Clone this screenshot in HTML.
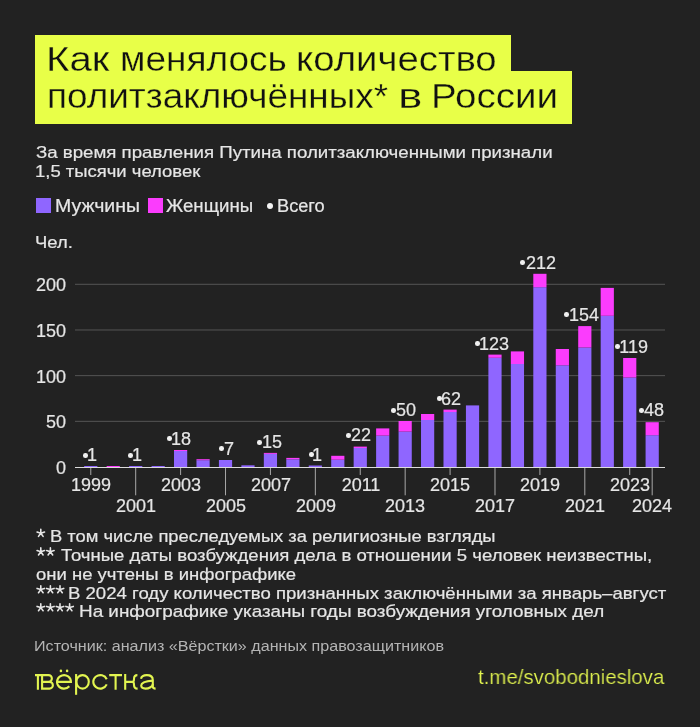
<!DOCTYPE html>
<html><head><meta charset="utf-8"><style>
html,body{margin:0;padding:0;}
div{will-change:transform;}
body{width:700px;height:727px;background:#222222;position:relative;overflow:hidden;font-family:"Liberation Sans",sans-serif;}
</style></head><body>
<div style="position:absolute;left:35px;top:35px;width:476px;height:40px;background:#e8ff48"></div><div style="position:absolute;left:35px;top:71.4px;width:537px;height:53.4px;background:#e8ff48"></div><div style="position:absolute;left:45.95px;top:42.28px;font-size:34.4px;line-height:34.4px;color:#111;white-space:pre;transform:scaleX(1.1687);transform-origin:0 0;-webkit-text-stroke:0.3px #e8ff48;">Как</div>
<div style="position:absolute;left:120.40px;top:42.28px;font-size:34.4px;line-height:34.4px;color:#111;white-space:pre;transform:scaleX(1.0758);transform-origin:0 0;-webkit-text-stroke:0.3px #e8ff48;">менялось</div>
<div style="position:absolute;left:295.82px;top:42.28px;font-size:34.4px;line-height:34.4px;color:#111;white-space:pre;transform:scaleX(1.1144);transform-origin:0 0;-webkit-text-stroke:0.3px #e8ff48;">количество</div>
<div style="position:absolute;left:46.56px;top:78.88px;font-size:34.4px;line-height:34.4px;color:#111;white-space:pre;transform:scaleX(1.0734);transform-origin:0 0;-webkit-text-stroke:0.3px #e8ff48;">политзаключённых*</div>
<div style="position:absolute;left:398.04px;top:78.88px;font-size:34.4px;line-height:34.4px;color:#111;white-space:pre;transform:scaleX(1.3313);transform-origin:0 0;-webkit-text-stroke:0.3px #e8ff48;">в</div>
<div style="position:absolute;left:430.68px;top:78.88px;font-size:34.4px;line-height:34.4px;color:#111;white-space:pre;transform:scaleX(1.1208);transform-origin:0 0;-webkit-text-stroke:0.3px #e8ff48;">России</div>
<div style="position:absolute;left:36.09px;top:144.04px;font-size:17.2px;line-height:17.2px;color:#e6e6e6;white-space:pre;transform:scaleX(1.0857);transform-origin:0 0;-webkit-text-stroke:0.2px #e6e6e6;">За время правления Путина политзаключенными признали</div>
<div style="position:absolute;left:35.14px;top:162.74px;font-size:17.2px;line-height:17.2px;color:#e6e6e6;white-space:pre;transform:scaleX(1.0742);transform-origin:0 0;-webkit-text-stroke:0.2px #e6e6e6;">1,5 тысячи человек</div>
<div style="position:absolute;left:35.7px;top:198px;width:15.3px;height:15.3px;background:#8f66ff"></div><div style="position:absolute;left:147.5px;top:198px;width:15.3px;height:15.3px;background:#fb3cfd"></div><div style="position:absolute;left:54.94px;top:198.20px;font-size:17.6px;line-height:17.6px;color:#e6e6e6;white-space:pre;transform:scaleX(1.1068);transform-origin:0 0;-webkit-text-stroke:0.2px #e6e6e6;">Мужчины</div>
<div style="position:absolute;left:166.41px;top:198.20px;font-size:17.6px;line-height:17.6px;color:#e6e6e6;white-space:pre;transform:scaleX(1.0595);transform-origin:0 0;-webkit-text-stroke:0.2px #e6e6e6;">Женщины</div>
<div style="position:absolute;left:276.55px;top:198.20px;font-size:17.6px;line-height:17.6px;color:#e6e6e6;white-space:pre;transform:scaleX(1.0347);transform-origin:0 0;-webkit-text-stroke:0.2px #e6e6e6;">Всего</div>
<div style="position:absolute;left:267.00px;top:203.00px;width:6px;height:6px;border-radius:50%;background:#f4f4f4"></div>
<div style="position:absolute;left:34.58px;top:233.51px;font-size:17px;line-height:17px;color:#e6e6e6;white-space:pre;transform:scaleX(1.0847);transform-origin:0 0;-webkit-text-stroke:0.2px #e6e6e6;">Чел.</div>
<svg style="position:absolute;left:0;top:0" width="700" height="727"><rect x="75" y="420.82" width="590" height="1" fill="#555555"/><rect x="75" y="375.15" width="590" height="1" fill="#555555"/><rect x="75" y="329.48" width="590" height="1" fill="#555555"/><rect x="75" y="283.80" width="590" height="1" fill="#555555"/><rect x="84.18" y="466.00" width="13.2" height="1.00" fill="#8f66ff"/><rect x="106.64" y="466.00" width="13.2" height="1.00" fill="#fb3cfd"/><rect x="129.09" y="466.00" width="13.2" height="1.00" fill="#8f66ff"/><rect x="151.55" y="466.00" width="13.2" height="1.00" fill="#8f66ff"/><rect x="174.00" y="451.00" width="13.2" height="16.00" fill="#8f66ff"/><rect x="174.00" y="450.00" width="13.2" height="1.00" fill="#fb3cfd"/><rect x="196.46" y="460.20" width="13.2" height="6.80" fill="#8f66ff"/><rect x="196.46" y="459.20" width="13.2" height="1.00" fill="#fb3cfd"/><rect x="218.92" y="460.00" width="13.2" height="7.00" fill="#8f66ff"/><rect x="241.37" y="465.30" width="13.2" height="1.70" fill="#8f66ff"/><rect x="263.83" y="453.90" width="13.2" height="13.10" fill="#8f66ff"/><rect x="263.83" y="452.90" width="13.2" height="1.00" fill="#fb3cfd"/><rect x="286.28" y="459.30" width="13.2" height="7.70" fill="#8f66ff"/><rect x="286.28" y="457.90" width="13.2" height="1.40" fill="#fb3cfd"/><rect x="308.74" y="465.50" width="13.2" height="1.50" fill="#8f66ff"/><rect x="331.20" y="459.70" width="13.2" height="7.30" fill="#8f66ff"/><rect x="331.20" y="455.80" width="13.2" height="3.90" fill="#fb3cfd"/><rect x="353.65" y="448.00" width="13.2" height="19.00" fill="#8f66ff"/><rect x="353.65" y="446.60" width="13.2" height="1.40" fill="#fb3cfd"/><rect x="376.11" y="435.60" width="13.2" height="31.40" fill="#8f66ff"/><rect x="376.11" y="428.40" width="13.2" height="7.20" fill="#fb3cfd"/><rect x="398.56" y="431.60" width="13.2" height="35.40" fill="#8f66ff"/><rect x="398.56" y="421.00" width="13.2" height="10.60" fill="#fb3cfd"/><rect x="421.02" y="420.00" width="13.2" height="47.00" fill="#8f66ff"/><rect x="421.02" y="414.00" width="13.2" height="6.00" fill="#fb3cfd"/><rect x="443.48" y="412.00" width="13.2" height="55.00" fill="#8f66ff"/><rect x="443.48" y="409.60" width="13.2" height="2.40" fill="#fb3cfd"/><rect x="465.93" y="405.40" width="13.2" height="61.60" fill="#8f66ff"/><rect x="488.39" y="357.80" width="13.2" height="109.20" fill="#8f66ff"/><rect x="488.39" y="354.60" width="13.2" height="3.20" fill="#fb3cfd"/><rect x="510.84" y="364.00" width="13.2" height="103.00" fill="#8f66ff"/><rect x="510.84" y="351.40" width="13.2" height="12.60" fill="#fb3cfd"/><rect x="533.30" y="287.20" width="13.2" height="179.80" fill="#8f66ff"/><rect x="533.30" y="273.80" width="13.2" height="13.40" fill="#fb3cfd"/><rect x="555.76" y="365.30" width="13.2" height="101.70" fill="#8f66ff"/><rect x="555.76" y="349.00" width="13.2" height="16.30" fill="#fb3cfd"/><rect x="578.21" y="347.50" width="13.2" height="119.50" fill="#8f66ff"/><rect x="578.21" y="326.10" width="13.2" height="21.40" fill="#fb3cfd"/><rect x="600.67" y="315.80" width="13.2" height="151.20" fill="#8f66ff"/><rect x="600.67" y="287.90" width="13.2" height="27.90" fill="#fb3cfd"/><rect x="623.12" y="377.50" width="13.2" height="89.50" fill="#8f66ff"/><rect x="623.12" y="358.00" width="13.2" height="19.50" fill="#fb3cfd"/><rect x="645.58" y="435.20" width="13.2" height="31.80" fill="#8f66ff"/><rect x="645.58" y="422.20" width="13.2" height="13.00" fill="#fb3cfd"/><rect x="75" y="467" width="590" height="1" fill="#dcdcdc"/><rect x="90.28" y="468" width="1" height="7" fill="#a8a8a8"/><rect x="135.19" y="468" width="1" height="27.30000000000001" fill="#a8a8a8"/><rect x="180.10" y="468" width="1" height="7" fill="#a8a8a8"/><rect x="225.02" y="468" width="1" height="27.30000000000001" fill="#a8a8a8"/><rect x="269.93" y="468" width="1" height="7" fill="#a8a8a8"/><rect x="314.84" y="468" width="1" height="27.30000000000001" fill="#a8a8a8"/><rect x="359.75" y="468" width="1" height="7" fill="#a8a8a8"/><rect x="404.66" y="468" width="1" height="27.30000000000001" fill="#a8a8a8"/><rect x="449.58" y="468" width="1" height="7" fill="#a8a8a8"/><rect x="494.49" y="468" width="1" height="27.30000000000001" fill="#a8a8a8"/><rect x="539.40" y="468" width="1" height="7" fill="#a8a8a8"/><rect x="584.31" y="468" width="1" height="27.30000000000001" fill="#a8a8a8"/><rect x="629.22" y="468" width="1" height="7" fill="#a8a8a8"/><rect x="651.68" y="468" width="1" height="27.30000000000001" fill="#a8a8a8"/></svg>
<div style="position:absolute;left:-134.50px;top:458.96px;width:200px;text-align:right;font-size:18px;line-height:18px;color:#e6e6e6;white-space:pre;-webkit-text-stroke:0.2px #e6e6e6;">0</div>
<div style="position:absolute;left:-134.50px;top:413.29px;width:200px;text-align:right;font-size:18px;line-height:18px;color:#e6e6e6;white-space:pre;-webkit-text-stroke:0.2px #e6e6e6;">50</div>
<div style="position:absolute;left:-134.50px;top:367.61px;width:200px;text-align:right;font-size:18px;line-height:18px;color:#e6e6e6;white-space:pre;-webkit-text-stroke:0.2px #e6e6e6;">100</div>
<div style="position:absolute;left:-134.50px;top:321.94px;width:200px;text-align:right;font-size:18px;line-height:18px;color:#e6e6e6;white-space:pre;-webkit-text-stroke:0.2px #e6e6e6;">150</div>
<div style="position:absolute;left:-134.50px;top:276.26px;width:200px;text-align:right;font-size:18px;line-height:18px;color:#e6e6e6;white-space:pre;-webkit-text-stroke:0.2px #e6e6e6;">200</div>
<div style="position:absolute;left:-8.92px;top:476.06px;width:200px;text-align:center;font-size:18px;line-height:18px;color:#e6e6e6;white-space:pre;-webkit-text-stroke:0.2px #e6e6e6;">1999</div>
<div style="position:absolute;left:35.99px;top:497.06px;width:200px;text-align:center;font-size:18px;line-height:18px;color:#e6e6e6;white-space:pre;-webkit-text-stroke:0.2px #e6e6e6;">2001</div>
<div style="position:absolute;left:80.90px;top:476.06px;width:200px;text-align:center;font-size:18px;line-height:18px;color:#e6e6e6;white-space:pre;-webkit-text-stroke:0.2px #e6e6e6;">2003</div>
<div style="position:absolute;left:125.82px;top:497.06px;width:200px;text-align:center;font-size:18px;line-height:18px;color:#e6e6e6;white-space:pre;-webkit-text-stroke:0.2px #e6e6e6;">2005</div>
<div style="position:absolute;left:170.73px;top:476.06px;width:200px;text-align:center;font-size:18px;line-height:18px;color:#e6e6e6;white-space:pre;-webkit-text-stroke:0.2px #e6e6e6;">2007</div>
<div style="position:absolute;left:215.64px;top:497.06px;width:200px;text-align:center;font-size:18px;line-height:18px;color:#e6e6e6;white-space:pre;-webkit-text-stroke:0.2px #e6e6e6;">2009</div>
<div style="position:absolute;left:260.55px;top:476.06px;width:200px;text-align:center;font-size:18px;line-height:18px;color:#e6e6e6;white-space:pre;-webkit-text-stroke:0.2px #e6e6e6;">2011</div>
<div style="position:absolute;left:305.46px;top:497.06px;width:200px;text-align:center;font-size:18px;line-height:18px;color:#e6e6e6;white-space:pre;-webkit-text-stroke:0.2px #e6e6e6;">2013</div>
<div style="position:absolute;left:350.38px;top:476.06px;width:200px;text-align:center;font-size:18px;line-height:18px;color:#e6e6e6;white-space:pre;-webkit-text-stroke:0.2px #e6e6e6;">2015</div>
<div style="position:absolute;left:395.29px;top:497.06px;width:200px;text-align:center;font-size:18px;line-height:18px;color:#e6e6e6;white-space:pre;-webkit-text-stroke:0.2px #e6e6e6;">2017</div>
<div style="position:absolute;left:440.20px;top:476.06px;width:200px;text-align:center;font-size:18px;line-height:18px;color:#e6e6e6;white-space:pre;-webkit-text-stroke:0.2px #e6e6e6;">2019</div>
<div style="position:absolute;left:485.11px;top:497.06px;width:200px;text-align:center;font-size:18px;line-height:18px;color:#e6e6e6;white-space:pre;-webkit-text-stroke:0.2px #e6e6e6;">2021</div>
<div style="position:absolute;left:530.02px;top:476.06px;width:200px;text-align:center;font-size:18px;line-height:18px;color:#e6e6e6;white-space:pre;-webkit-text-stroke:0.2px #e6e6e6;">2023</div>
<div style="position:absolute;left:552.48px;top:497.06px;width:200px;text-align:center;font-size:18px;line-height:18px;color:#e6e6e6;white-space:pre;-webkit-text-stroke:0.2px #e6e6e6;">2024</div>
<div style="position:absolute;left:-103.30px;top:446.16px;width:200px;text-align:right;font-size:18px;line-height:18px;color:#e6e6e6;white-space:pre;-webkit-text-stroke:0.2px #e6e6e6;">1</div>
<div style="position:absolute;left:83.00px;top:452.70px;width:4.6px;height:4.6px;border-radius:50%;background:#f0f0f0"></div>
<div style="position:absolute;left:-58.20px;top:446.16px;width:200px;text-align:right;font-size:18px;line-height:18px;color:#e6e6e6;white-space:pre;-webkit-text-stroke:0.2px #e6e6e6;">1</div>
<div style="position:absolute;left:127.90px;top:452.70px;width:4.6px;height:4.6px;border-radius:50%;background:#f0f0f0"></div>
<div style="position:absolute;left:-8.60px;top:429.86px;width:200px;text-align:right;font-size:18px;line-height:18px;color:#e6e6e6;white-space:pre;-webkit-text-stroke:0.2px #e6e6e6;">18</div>
<div style="position:absolute;left:167.00px;top:436.40px;width:4.6px;height:4.6px;border-radius:50%;background:#f0f0f0"></div>
<div style="position:absolute;left:34.20px;top:439.86px;width:200px;text-align:right;font-size:18px;line-height:18px;color:#e6e6e6;white-space:pre;-webkit-text-stroke:0.2px #e6e6e6;">7</div>
<div style="position:absolute;left:219.00px;top:446.40px;width:4.6px;height:4.6px;border-radius:50%;background:#f0f0f0"></div>
<div style="position:absolute;left:81.50px;top:432.96px;width:200px;text-align:right;font-size:18px;line-height:18px;color:#e6e6e6;white-space:pre;-webkit-text-stroke:0.2px #e6e6e6;">15</div>
<div style="position:absolute;left:257.40px;top:439.50px;width:4.6px;height:4.6px;border-radius:50%;background:#f0f0f0"></div>
<div style="position:absolute;left:121.70px;top:445.66px;width:200px;text-align:right;font-size:18px;line-height:18px;color:#e6e6e6;white-space:pre;-webkit-text-stroke:0.2px #e6e6e6;">1</div>
<div style="position:absolute;left:308.80px;top:452.20px;width:4.6px;height:4.6px;border-radius:50%;background:#f0f0f0"></div>
<div style="position:absolute;left:170.90px;top:426.36px;width:200px;text-align:right;font-size:18px;line-height:18px;color:#e6e6e6;white-space:pre;-webkit-text-stroke:0.2px #e6e6e6;">22</div>
<div style="position:absolute;left:346.10px;top:432.90px;width:4.6px;height:4.6px;border-radius:50%;background:#f0f0f0"></div>
<div style="position:absolute;left:216.20px;top:401.36px;width:200px;text-align:right;font-size:18px;line-height:18px;color:#e6e6e6;white-space:pre;-webkit-text-stroke:0.2px #e6e6e6;">50</div>
<div style="position:absolute;left:390.80px;top:407.90px;width:4.6px;height:4.6px;border-radius:50%;background:#f0f0f0"></div>
<div style="position:absolute;left:261.30px;top:389.66px;width:200px;text-align:right;font-size:18px;line-height:18px;color:#e6e6e6;white-space:pre;-webkit-text-stroke:0.2px #e6e6e6;">62</div>
<div style="position:absolute;left:436.50px;top:396.20px;width:4.6px;height:4.6px;border-radius:50%;background:#f0f0f0"></div>
<div style="position:absolute;left:308.90px;top:334.56px;width:200px;text-align:right;font-size:18px;line-height:18px;color:#e6e6e6;white-space:pre;-webkit-text-stroke:0.2px #e6e6e6;">123</div>
<div style="position:absolute;left:475.20px;top:341.10px;width:4.6px;height:4.6px;border-radius:50%;background:#f0f0f0"></div>
<div style="position:absolute;left:355.80px;top:253.66px;width:200px;text-align:right;font-size:18px;line-height:18px;color:#e6e6e6;white-space:pre;-webkit-text-stroke:0.2px #e6e6e6;">212</div>
<div style="position:absolute;left:520.10px;top:260.20px;width:4.6px;height:4.6px;border-radius:50%;background:#f0f0f0"></div>
<div style="position:absolute;left:399.30px;top:305.66px;width:200px;text-align:right;font-size:18px;line-height:18px;color:#e6e6e6;white-space:pre;-webkit-text-stroke:0.2px #e6e6e6;">154</div>
<div style="position:absolute;left:564.30px;top:312.20px;width:4.6px;height:4.6px;border-radius:50%;background:#f0f0f0"></div>
<div style="position:absolute;left:447.50px;top:337.56px;width:200px;text-align:right;font-size:18px;line-height:18px;color:#e6e6e6;white-space:pre;-webkit-text-stroke:0.2px #e6e6e6;">119</div>
<div style="position:absolute;left:614.90px;top:344.10px;width:4.6px;height:4.6px;border-radius:50%;background:#f0f0f0"></div>
<div style="position:absolute;left:464.10px;top:401.36px;width:200px;text-align:right;font-size:18px;line-height:18px;color:#e6e6e6;white-space:pre;-webkit-text-stroke:0.2px #e6e6e6;">48</div>
<div style="position:absolute;left:638.80px;top:407.90px;width:4.6px;height:4.6px;border-radius:50%;background:#f0f0f0"></div>
<div style="position:absolute;left:49.84px;top:528.41px;font-size:17px;line-height:17px;color:#e6e6e6;white-space:pre;transform:scaleX(1.0790);transform-origin:0 0;-webkit-text-stroke:0.2px #e6e6e6;">В том числе преследуемых за религиозные взгляды</div>
<div style="position:absolute;left:60.82px;top:547.01px;font-size:17px;line-height:17px;color:#e6e6e6;white-space:pre;transform:scaleX(1.0921);transform-origin:0 0;-webkit-text-stroke:0.2px #e6e6e6;">Точные даты возбуждения дела в отношении 5 человек неизвестны,</div>
<div style="position:absolute;left:36.38px;top:565.91px;font-size:17px;line-height:17px;color:#e6e6e6;white-space:pre;transform:scaleX(1.0878);transform-origin:0 0;-webkit-text-stroke:0.2px #e6e6e6;">они не учтены в инфографике</div>
<div style="position:absolute;left:68.48px;top:584.81px;font-size:17px;line-height:17px;color:#e6e6e6;white-space:pre;transform:scaleX(1.0923);transform-origin:0 0;-webkit-text-stroke:0.2px #e6e6e6;">В 2024 году количество признанных заключёнными за январь–август</div>
<div style="position:absolute;left:79.16px;top:602.81px;font-size:17px;line-height:17px;color:#e6e6e6;white-space:pre;transform:scaleX(1.1103);transform-origin:0 0;-webkit-text-stroke:0.2px #e6e6e6;">На инфографике указаны годы возбуждения уголовных дел</div>
<svg style="position:absolute;left:0;top:0" width="700" height="727"><g stroke="#e6e6e6" stroke-width="1.6" stroke-linecap="round" fill="none"><path d="M40.80,533.20 L40.80,529.30 M40.80,533.20 L44.51,531.99 M40.80,533.20 L43.09,536.36 M40.80,533.20 L38.51,536.36 M40.80,533.20 L37.09,531.99 "/><path d="M40.80,551.80 L40.80,547.90 M40.80,551.80 L44.51,550.59 M40.80,551.80 L43.09,554.96 M40.80,551.80 L38.51,554.96 M40.80,551.80 L37.09,550.59 "/><path d="M50.40,551.80 L50.40,547.90 M50.40,551.80 L54.11,550.59 M50.40,551.80 L52.69,554.96 M50.40,551.80 L48.11,554.96 M50.40,551.80 L46.69,550.59 "/><path d="M40.80,589.60 L40.80,585.70 M40.80,589.60 L44.51,588.39 M40.80,589.60 L43.09,592.76 M40.80,589.60 L38.51,592.76 M40.80,589.60 L37.09,588.39 "/><path d="M50.40,589.60 L50.40,585.70 M50.40,589.60 L54.11,588.39 M50.40,589.60 L52.69,592.76 M50.40,589.60 L48.11,592.76 M50.40,589.60 L46.69,588.39 "/><path d="M60.00,589.60 L60.00,585.70 M60.00,589.60 L63.71,588.39 M60.00,589.60 L62.29,592.76 M60.00,589.60 L57.71,592.76 M60.00,589.60 L56.29,588.39 "/><path d="M40.80,607.60 L40.80,603.70 M40.80,607.60 L44.51,606.39 M40.80,607.60 L43.09,610.76 M40.80,607.60 L38.51,610.76 M40.80,607.60 L37.09,606.39 "/><path d="M50.40,607.60 L50.40,603.70 M50.40,607.60 L54.11,606.39 M50.40,607.60 L52.69,610.76 M50.40,607.60 L48.11,610.76 M50.40,607.60 L46.69,606.39 "/><path d="M60.00,607.60 L60.00,603.70 M60.00,607.60 L63.71,606.39 M60.00,607.60 L62.29,610.76 M60.00,607.60 L57.71,610.76 M60.00,607.60 L56.29,606.39 "/><path d="M69.60,607.60 L69.60,603.70 M69.60,607.60 L73.31,606.39 M69.60,607.60 L71.89,610.76 M69.60,607.60 L67.31,610.76 M69.60,607.60 L65.89,606.39 "/></g></svg>
<div style="position:absolute;left:34.13px;top:638.43px;font-size:15.2px;line-height:15.2px;color:#b4b4b4;white-space:pre;transform:scaleX(1.0605);transform-origin:0 0;will-change:transform;">Источник: анализ «Вёрстки» данных правозащитников</div>
<svg style="position:absolute;left:0;top:0" width="700" height="727">
<g fill="none" stroke="#e2f450" stroke-width="2.1">
<path d="M35,675.1 H43 M37.9,675.1 V689.7"/>
<path d="M42.1,674.0500000000001 V689.65 M42.1,675.1 H48.5 A3.375,3.375 0 0 1 48.5,681.85 H42.1 M42.1,681.85 H49.5 A3.375,3.375 0 0 1 49.5,688.6 H42.1"/>
<path d="M57.05,681.85 H70.95 A6.95,6.75 0 1 0 69.3,686.25"/>
<path d="M76.1,674.0500000000001 V694.8"/>
<ellipse cx="82.6" cy="681.85" rx="6.2" ry="6.75"/>
<path d="M106.74,679.25 A7,6.75 0 1 0 106.74,684.45"/>
<path d="M109.2,675.1 H122 M115.6,675.1 V689.7"/>
<path d="M125.2,674.0500000000001 V689.7 M125.2,681.85 H132.5 M137.4,675.1 C134.6,675.1 134,677 134,679 C134,680.8 133.5,681.85 132.5,681.85 C133.5,681.85 134,682.9 134,684.7 C134,686.7 134.6,688.6 137.6,688.6"/>
<path d="M141,678.8 C141.5,676 143.5,675.1 146.8,675.1 C150.5,675.1 152.8,676.8 152.8,680 V686.5 C152.8,688 153.3,688.6 155.6,688.6"/>
<path d="M152.8,680.6 C147,681 141.2,682.5 141.2,685.6 C141.2,687.7 143,688.6 145.5,688.6 C149,688.6 152.8,686.5 152.8,684"/>
</g>
<circle cx="60.9" cy="670.9" r="1.3" fill="#e2f450"/><circle cx="67.1" cy="670.9" r="1.3" fill="#e2f450"/>
</svg>
<div style="position:absolute;left:478.49px;top:667.19px;font-size:20.8px;line-height:20.8px;color:#e2f450;white-space:pre;transform:scaleX(0.9828);transform-origin:0 0;-webkit-text-stroke:0.2px #222222;">t.me/svobodnieslova</div>

</body></html>
